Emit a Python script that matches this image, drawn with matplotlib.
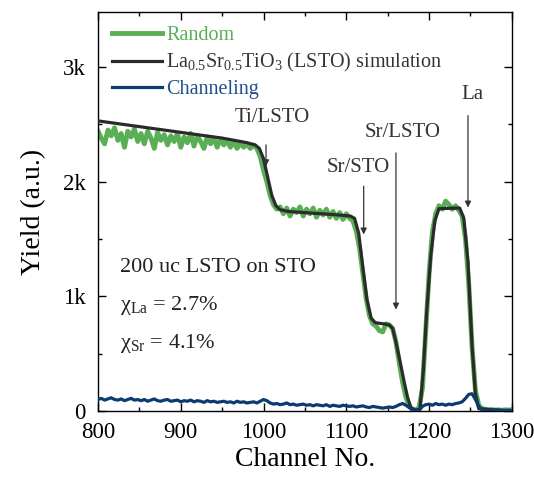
import numpy as np
import matplotlib
matplotlib.use("Agg")
import matplotlib.pyplot as plt
from matplotlib.ticker import MultipleLocator

plt.rcParams['font.family'] = ['Liberation Serif', 'DejaVu Serif']
plt.rcParams['mathtext.fontset'] = 'custom'
plt.rcParams['mathtext.rm'] = 'Liberation Serif'
plt.rcParams['mathtext.it'] = 'Liberation Serif:italic'

# Random spectrum (4-channel steps from 800)
random_vals = [
    2440, 2380, 2330, 2450, 2400, 2470, 2360, 2420, 2300, 2440, 2390, 2460, 2350,
    2420, 2330, 2440, 2380, 2290, 2430, 2360, 2410, 2320, 2400, 2350, 2420, 2300,
    2390, 2340, 2420, 2310, 2400, 2350, 2290, 2390, 2330, 2380, 2300, 2370, 2320,
    2360, 2300, 2350, 2290, 2340, 2300, 2330, 2290, 2320,
    2290, 2220, 2100, 2000, 1880, 1800, 1760, 1780, 1720, 1770, 1700, 1760, 1730,
    1780, 1700, 1760, 1720, 1770, 1690, 1750, 1710, 1760, 1690, 1740, 1680, 1730,
    1670, 1720, 1680, 1660, 1570, 1420, 1200, 980, 830, 760, 740, 700, 690, 760,
    750, 720, 600, 420, 250, 120, 40, 15, 10, 30, 200, 700, 1200, 1560, 1720, 1790,
    1760, 1830, 1800, 1760, 1790, 1750, 1700, 1500, 1100, 550, 180, 50, 20, 15, 10,
    12, 8, 10, 6, 10, 8, 12, 6, 8,
]
random_ch = np.arange(800, 800 + 4 * len(random_vals), 4)

# LSTO simulation
sim_ch = [800, 850, 900, 950, 980, 990, 995, 1000, 1005, 1010, 1015, 1020, 1030,
          1060, 1090, 1105, 1110, 1115, 1120, 1125, 1130, 1135, 1145, 1152, 1156,
          1160, 1165, 1170, 1174, 1178, 1183, 1189, 1193, 1197, 1202, 1207, 1212,
          1237, 1242, 1247, 1252, 1256, 1260, 1300]
sim_vals = [2530, 2480, 2430, 2380, 2340, 2320, 2290, 2200, 2040, 1880, 1790, 1755, 1740,
            1725, 1710, 1700, 1680, 1550, 1250, 970, 810, 770, 760, 750, 720,
            600, 430, 250, 120, 30, 8, 15, 350, 850, 1350, 1660, 1765,
            1770, 1680, 1300, 560, 150, 20, 0]

# Channeling spectrum (4-channel steps from 800)
chan_vals = [
    100, 110, 95, 105, 115, 100, 95, 105, 90, 100, 110, 95, 100,
    90, 100, 85, 95, 105, 90, 85, 95, 100, 85, 90, 95, 80,
    90, 85, 95, 80, 90, 85, 75, 90, 80, 85, 75, 80,
    85, 75, 80, 70, 85, 75, 80, 70, 75, 80, 70, 85, 100,
    90, 70, 60, 65, 55, 60, 70, 55, 60, 50, 55, 60, 50,
    55, 45, 55, 50, 45, 55, 40, 50, 45, 40, 50, 45,
    40, 45, 35, 40, 45, 35, 30, 40, 35, 30, 25, 30,
    35, 30, 40, 55, 65, 50, 30,
    10, 5, 5,
    40, 55, 60, 50, 65, 55, 60, 50, 60, 55, 65, 70, 80,
    110, 145, 150, 100, 40, 10,
    5, 6, 4, 5, 6, 4, 5, 6, 5,
]
chan_ch = np.arange(800, 800 + 4 * len(chan_vals), 4)

x_ticks = [800, 900, 1000, 1100, 1200, 1300]
y_ticks = [0, 1000, 2000, 3000]
y_tick_labels = ['0', '1k', '2k', '3k']

green = '#5aae55'
black = '#2b2b2b'
navy = '#0d3a70'

fig = plt.figure(figsize=(5.34, 4.79), dpi=100)
ax = fig.add_axes([0.1835, 0.142, 0.775, 0.833])

l1, = ax.plot(random_ch, random_vals, color=green, lw=3.5, label='Random', zorder=2)
l2, = ax.plot(sim_ch, sim_vals, color=black, lw=2.3,
              label=r'La$_{0.5}$Sr$_{0.5}$TiO$_3$ (LSTO) simulation', zorder=3)
l3, = ax.plot(chan_ch, chan_vals, color=navy, lw=2.3, label='Channeling', zorder=4)

ax.set_xlim(800, 1300)
ax.set_ylim(0, 3480)
ax.set_xticks(x_ticks)
ax.set_yticks(y_ticks)
ax.set_yticklabels(y_tick_labels)
ax.xaxis.set_minor_locator(MultipleLocator(50))
ax.yaxis.set_minor_locator(MultipleLocator(500))
ax.tick_params(which='both', direction='in', top=True, right=True, labelsize=16.5, width=1.0)
ax.tick_params(which='major', length=6)
ax.tick_params(which='minor', length=3)
ax.tick_params(axis='x', which='major', pad=8)
ax.tick_params(axis='y', which='major', pad=9)
for s in ax.spines.values():
    s.set_linewidth(1.0)
ax.set_xlabel('Channel No.', fontsize=20, labelpad=3)
ax.set_ylabel('Yield (a.u.)', fontsize=20, labelpad=12)

leg = ax.legend(handles=[l1, l2, l3], loc='upper left', bbox_to_anchor=(0.0, 1.0),
                frameon=False, fontsize=14.5, handlelength=2.5, handletextpad=0.2,
                labelspacing=0.3, borderaxespad=0.3)
for txt, c in zip(leg.get_texts(), [green, '#333333', '#1f4e8c']):
    txt.set_color(c)

arrow_kw = dict(arrowstyle='-|>', color='#333333', lw=0.9, mutation_scale=9)
ax.annotate('', xy=(1003, 2110), xytext=(1003, 2345), arrowprops=arrow_kw)
ax.text(1010, 2560, 'Ti/LSTO', fontsize=15, ha='center', va='center', color='#333333')
ax.annotate('', xy=(1121, 1515), xytext=(1121, 1985), arrowprops=arrow_kw)
ax.text(1115, 2120, 'Sr/STO', fontsize=15, ha='center', va='center', color='#333333')
ax.annotate('', xy=(1160, 860), xytext=(1160, 2275), arrowprops=arrow_kw)
ax.text(1168, 2430, 'Sr/LSTO', fontsize=15, ha='center', va='center', color='#333333')
ax.annotate('', xy=(1247, 1750), xytext=(1247, 2600), arrowprops=arrow_kw)
ax.text(1252, 2760, 'La', fontsize=15, ha='center', va='center', color='#333333')

ax.text(827, 1250, '200 uc LSTO on STO', fontsize=16, ha='left', va='center', color='#222222')
ax.text(827, 920, 'χ$_{\\mathrm{La}}$ = 2.7%', fontsize=16, ha='left', va='center', color='#222222')
ax.text(827, 585, 'χ$_{\\mathrm{Sr}}$ = 4.1%', fontsize=16, ha='left', va='center', color='#222222')

fig.savefig('out.png', dpi=100)
